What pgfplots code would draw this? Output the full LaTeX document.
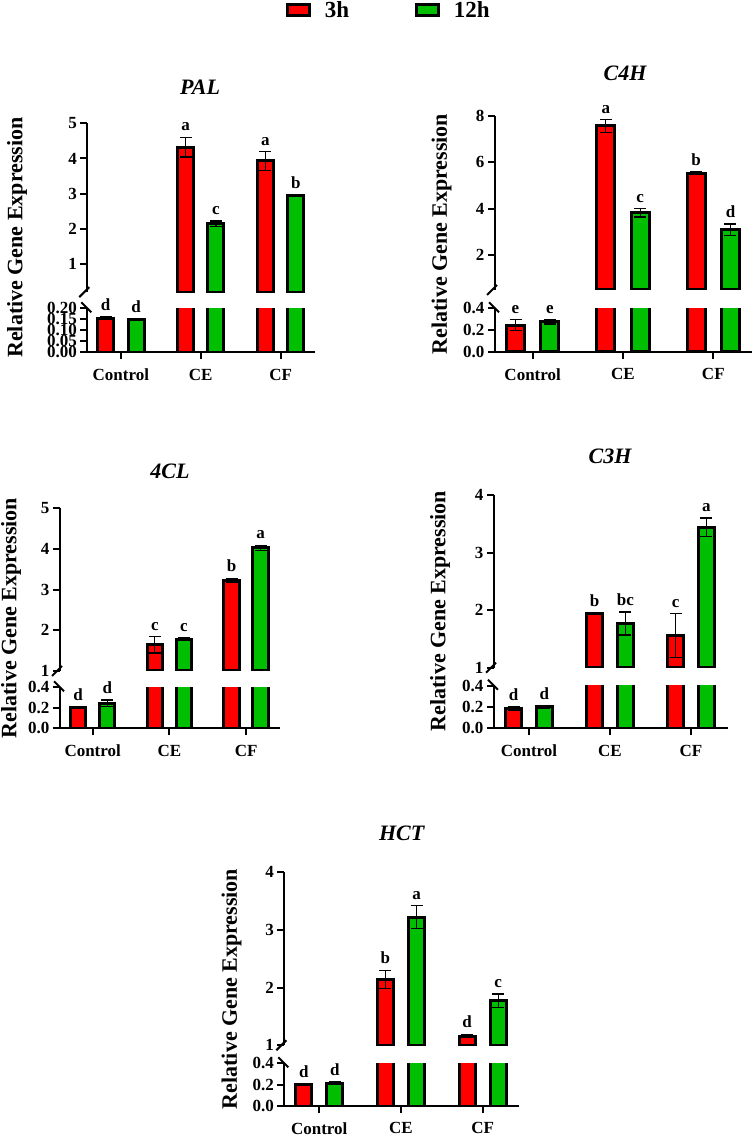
\documentclass[border=0pt]{standalone}
\usepackage{fontspec}
\setmainfont{Liberation Serif}
\usepackage{pgfplots}
\usepackage{pgfplotstable}
\pgfplotsset{compat=1.18}

\definecolor{barred}{RGB}{255,0,0}
\definecolor{bargreen}{RGB}{0,190,0}

% relative expression: mean and error for 3 h and 12 h, with significance letters
\pgfplotstableread{
x m3 e3 l3 m12 e12 l12
0 0.155 0.005 d 0.148 0.005 d
1 4.32 0.28 a 2.14 0.08 c
2 3.93 0.27 a 2.95 0.02 b
}\PAL
\pgfplotstableread{
x m3 e3 l3 m12 e12 l12
0 0.245 0.05 e 0.275 0.02 e
1 7.57 0.28 a 3.82 0.18 c
2 5.53 0.06 b 3.09 0.25 d
}\CFH
\pgfplotstableread{
x m3 e3 l3 m12 e12 l12
0 0.205 0.005 d 0.245 0.03 d
1 1.64 0.20 c 1.78 0.03 c
2 3.23 0.05 b 4.03 0.06 a
}\FCL
\pgfplotstableread{
x m3 e3 l3 m12 e12 l12
0 0.185 0.015 d 0.200 0.01 d
1 1.94 0.02 b 1.77 0.20 bc
2 1.56 0.38 c 3.44 0.16 a
}\CTH
\pgfplotstableread{
x m3 e3 l3 m12 e12 l12
0 0.200 0.005 d 0.215 0.01 d
1 2.14 0.16 b 3.22 0.20 a
2 1.16 0.03 d 1.77 0.12 c
}\HCT

\pgfplotsset{
  common/.style={
    scale only axis, anchor=south west,
    axis line style={line width=2pt},
    tick style={line width=2pt, black},
    tick align=outside,
    major tick length=7pt,
    tick label style={font=\fontsize{17}{17}\selectfont\bfseries},
    /pgf/number format/assume math mode=true,
  },
  upperseg/.style={common, axis y line*=left, axis x line=none, xtick=\empty,
    extra description/.code={\draw[line width=2pt] (rel axis cs:0,0) ++(-8pt,-5pt) -- ++(10pt,10pt);}},
  lowerseg/.style={common, axis y line*=left, axis x line*=bottom,
    xtick={0,1,2}, xticklabels={Control,CE,CF}, major tick length=7pt,
    x tick label style={font=\fontsize{17}{17}\selectfont\bfseries, yshift=-6pt},
    yticklabel style={/pgf/number format/.cd, fixed, fixed zerofill, precision=1},
    extra description/.code={\draw[line width=2pt] (rel axis cs:0,1) ++(-6pt,6pt) -- ++(10pt,-10pt);}},
  bar3/.style={ybar, bar width=0.2, bar shift=0pt, fill=barred, draw=black, line width=3pt},
  bar12/.style={ybar, bar width=0.2, bar shift=0pt, fill=bargreen, draw=black, line width=3pt},
  errs/.style={error bars/.cd, y dir=both, y explicit,
    error bar style={line width=1.3pt, black},
    error mark=-, error mark options={rotate=90, line width=1.3pt, mark size=6pt, black}},
  lab/.style={draw=none, nodes near coords, point meta=explicit symbolic,
    nodes near coords style={anchor=south, font=\fontsize{17}{17}\selectfont\bfseries, inner sep=0pt, yshift=6pt}},
}

% bars above the break (treatments only)
\newcommand{\upperbars}[1]{%
  \addplot[bar3, skip coords between index={0}{1}, errs] table[x expr=\thisrow{x}-0.19, y=m3, y error=e3] {#1};
  \addplot[bar12, skip coords between index={0}{1}, errs] table[x expr=\thisrow{x}+0.19, y=m12, y error=e12] {#1};
  \addplot[lab, skip coords between index={0}{1}] table[x expr=\thisrow{x}-0.19, y expr=\thisrow{m3}+\thisrow{e3}, meta=l3] {#1};
  \addplot[lab, skip coords between index={0}{1}] table[x expr=\thisrow{x}+0.19, y expr=\thisrow{m12}+\thisrow{e12}, meta=l12] {#1};
}
% bars below the break: control in full, treatments as stubs
\newcommand{\lowerbars}[1]{%
  \addplot[bar3, skip coords between index={0}{1}] table[x expr=\thisrow{x}-0.19, y=m3] {#1};
  \addplot[bar12, skip coords between index={0}{1}] table[x expr=\thisrow{x}+0.19, y=m12] {#1};
  \addplot[bar3, skip coords between index={1}{3}, errs] table[x expr=\thisrow{x}-0.19, y=m3, y error=e3] {#1};
  \addplot[bar12, skip coords between index={1}{3}, errs] table[x expr=\thisrow{x}+0.19, y=m12, y error=e12] {#1};
  \addplot[lab, skip coords between index={1}{3}] table[x expr=\thisrow{x}-0.19, y expr=\thisrow{m3}+\thisrow{e3}, meta=l3] {#1};
  \addplot[lab, skip coords between index={1}{3}] table[x expr=\thisrow{x}+0.19, y expr=\thisrow{m12}+\thisrow{e12}, meta=l12] {#1};
}

\begin{document}
\begin{tikzpicture}
\useasboundingbox (0,0) rectangle (755pt,1136pt);

% ---------------- legend ----------------
\begin{axis}[hide axis, scale only axis, width=10pt, height=10pt, anchor=center,
  at={(389pt,1126pt)}, xmin=0, xmax=1, ymin=0, ymax=1,
  legend columns=2,
  legend style={at={(0.5,0.5)}, anchor=center, draw=none, fill=none,
    font=\fontsize{23}{23}\selectfont\bfseries,
    /tikz/every even column/.append style={column sep=64pt}},
  legend image code/.code={\draw[#1, line width=3pt] (0pt,-5.2pt) rectangle (22pt,5.2pt);
    \path[draw=none, fill=none] (0pt,0pt) -- (35pt,0pt);}]
\addlegendimage{fill=barred, draw=black}
\addlegendentry{3h}
\addlegendimage{fill=bargreen, draw=black}
\addlegendentry{12h}
\end{axis}

% ---------------- PAL ----------------
\begin{axis}[upperseg, at={(87.3pt,843.9pt)}, width=227.7pt, height=168.8pt,
  xmin=-0.42, xmax=2.43, ymin=0.2, ymax=5, ytick={1,2,3,4,5}]
\upperbars{\PAL}
\end{axis}
\begin{axis}[lowerseg, at={(87.3pt,783.7pt)}, width=227.7pt, height=44pt,
  xmin=-0.42, xmax=2.43, ymin=0, ymax=0.2, ytick={0,0.05,0.1,0.15,0.2},
  yticklabel style={/pgf/number format/.cd, fixed, fixed zerofill, precision=2}]
\lowerbars{\PAL}
\end{axis}
\node[font=\fontsize{22}{22}\selectfont\bfseries\itshape] at (200pt,1049pt) {PAL};
\node[rotate=90, font=\fontsize{22}{22}\selectfont\bfseries] at (17pt,898.5pt) {Relative Gene Expression};

% ---------------- C4H ----------------
\begin{axis}[upperseg, at={(495pt,846pt)}, width=256.7pt, height=174pt,
  xmin=-0.417, xmax=2.425, ymin=0.5, ymax=8, ytick={2,4,6,8}]
\upperbars{\CFH}
\end{axis}
\begin{axis}[lowerseg, at={(495pt,784.3pt)}, width=256.7pt, height=43.4pt,
  xmin=-0.417, xmax=2.425, ymin=0, ymax=0.4, ytick={0,0.2,0.4}]
\lowerbars{\CFH}
\end{axis}
\node[font=\fontsize{22}{22}\selectfont\bfseries\itshape] at (625pt,1062.7pt) {C4H};
\node[rotate=90, font=\fontsize{22}{22}\selectfont\bfseries] at (441.7pt,902pt) {Relative Gene Expression};

% ---------------- 4CL ----------------
\begin{axis}[upperseg, at={(60pt,465pt)}, width=220pt, height=162.7pt,
  xmin=-0.426, xmax=2.442, ymin=1, ymax=5, ytick={1,2,3,4,5}]
\upperbars{\FCL}
\end{axis}
\begin{axis}[lowerseg, at={(60pt,407.7pt)}, width=220pt, height=41pt,
  xmin=-0.426, xmax=2.442, ymin=0, ymax=0.4, ytick={0,0.2,0.4}]
\lowerbars{\FCL}
\end{axis}
\node[font=\fontsize{22}{22}\selectfont\bfseries\itshape] at (170pt,664.3pt) {4CL};
\node[rotate=90, font=\fontsize{22}{22}\selectfont\bfseries] at (11pt,518pt) {Relative Gene Expression};

% ---------------- C3H ----------------
\begin{axis}[upperseg, at={(494pt,468.3pt)}, width=233.7pt, height=172.7pt,
  xmin=-0.432, xmax=2.453, ymin=1, ymax=4, ytick={1,2,3,4}]
\upperbars{\CTH}
\end{axis}
\begin{axis}[lowerseg, at={(494pt,407.7pt)}, width=233.7pt, height=42.6pt,
  xmin=-0.432, xmax=2.453, ymin=0, ymax=0.4, ytick={0,0.2,0.4}]
\lowerbars{\CTH}
\end{axis}
\node[font=\fontsize{22}{22}\selectfont\bfseries\itshape] at (610pt,679.3pt) {C3H};
\node[rotate=90, font=\fontsize{22}{22}\selectfont\bfseries] at (440pt,525pt) {Relative Gene Expression};

% ---------------- HCT ----------------
\begin{axis}[upperseg, at={(284.3pt,90.7pt)}, width=235pt, height=173pt,
  xmin=-0.428, xmax=2.448, ymin=1, ymax=4, ytick={1,2,3,4}]
\upperbars{\HCT}
\end{axis}
\begin{axis}[lowerseg, at={(284.3pt,30pt)}, width=235pt, height=42.7pt,
  xmin=-0.428, xmax=2.448, ymin=0, ymax=0.4, ytick={0,0.2,0.4}]
\lowerbars{\HCT}
\end{axis}
\node[font=\fontsize{22}{22}\selectfont\bfseries\itshape] at (401.7pt,302.7pt) {HCT};
\node[rotate=90, font=\fontsize{22}{22}\selectfont\bfseries] at (231.7pt,147pt) {Relative Gene Expression};

\end{tikzpicture}
\end{document}
